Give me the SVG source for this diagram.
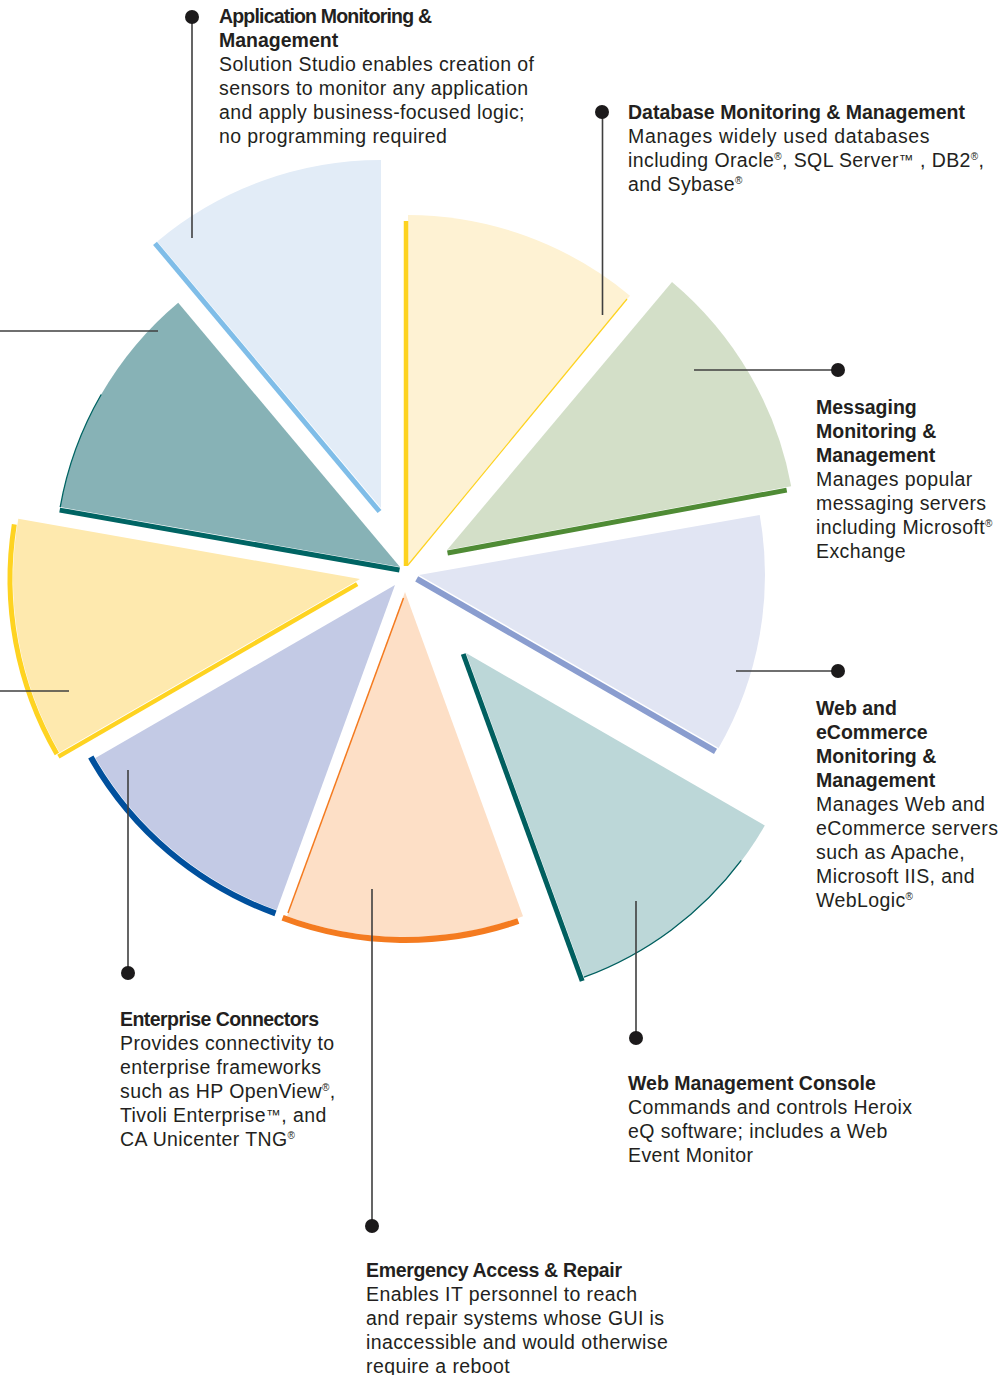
<svg xmlns="http://www.w3.org/2000/svg" width="1003" height="1375" viewBox="0 0 1003 1375">
<style>
text{font-family:"Liberation Sans",Arial,sans-serif;font-size:19.5px;fill:#231f20}
.t{font-weight:bold}
.b{letter-spacing:0.4px}
.tm{font-size:15px}
.edge{fill:none;stroke-linecap:butt}
.lead{stroke:#3f3f3f;stroke-width:1.6;fill:none}
.dot{fill:#1c1a1b}
</style>
<rect width="1003" height="1375" fill="#ffffff"/>

<g id="wedge-app">
<path d="M381,508 L157.3,241.4 A348,348 0 0 1 381,160 Z" fill="#e2ecf7"/>
<line class="edge" x1="379.5" y1="511.5" x2="155" y2="243.3" stroke="#7fbde8" stroke-width="5"/>
</g>
<g id="wedge-database">
<path d="M408,565 L408,215 A349,349 0 0 1 630,295.7 Z" fill="#fef2d3"/>
<line class="edge" x1="406" y1="221" x2="406" y2="566" stroke="#fdd21f" stroke-width="4.5"/>
<line class="edge" x1="408" y1="565" x2="627" y2="299" stroke="#fdd21f" stroke-width="1.2"/>
</g>
<g id="wedge-messaging">
<path d="M447,550 L672,281.9 A350,350 0 0 1 791.2,486.2 Z" fill="#d3dfc8"/>
<line class="edge" x1="447.5" y1="553" x2="786.7" y2="490.1" stroke="#4f8b35" stroke-width="5"/>
</g>
<g id="wedge-web-ecommerce">
<path d="M419,575 L759.7,514.9 A346,346 0 0 1 718.6,748 Z" fill="#e1e5f3"/>
<line class="edge" x1="416.7" y1="578.9" x2="715.5" y2="751.4" stroke="#8a9dcf" stroke-width="6"/>
</g>
<g id="wedge-web-console">
<path d="M466,653 L764.8,825.5 A345,345 0 0 1 584,977.2 Z" fill="#bcd7d8"/>
<line class="edge" x1="463.2" y1="654" x2="582.2" y2="981" stroke="#005f5f" stroke-width="5"/>
<path class="edge" d="M741.2,860.4 A345,345 0 0 1 584,977.2" stroke="#005f5f" stroke-width="1.3"/>
</g>
<g id="wedge-emergency">
<path d="M405,592 L523,916.2 A345,345 0 0 1 287,916.2 Z" fill="#fddfc6"/>
<path class="edge" d="M518.3,921 A348,348 0 0 1 282.6,917.8" stroke="#f47b20" stroke-width="6"/>
<line class="edge" x1="403.5" y1="598" x2="288" y2="913" stroke="#f47b20" stroke-width="1.5"/>
</g>
<g id="wedge-enterprise">
<path d="M395,585 L276.7,910.1 A346,346 0 0 1 95.4,758 Z" fill="#c3cae5"/>
<path class="edge" d="M275.5,913.4 A349.5,349.5 0 0 1 90.8,757.1" stroke="#00509d" stroke-width="6"/>
</g>
<g id="wedge-left-yellow">
<path d="M360,579 L59.5,752.5 A347,347 0 0 1 18.3,518.7 Z" fill="#fee9ae"/>
<path class="edge" d="M56.9,754 A350,350 0 0 1 14.3,524.3" stroke="#fed321" stroke-width="5"/>
<line class="edge" x1="357.2" y1="584.1" x2="58.4" y2="756.6" stroke="#fed321" stroke-width="4.5"/>
</g>
<g id="wedge-left-teal">
<path d="M400,567 L60.2,507.1 A345,345 0 0 1 178.2,302.7 Z" fill="#87b2b6"/>
<line class="edge" x1="399.5" y1="570" x2="59.7" y2="510.1" stroke="#006463" stroke-width="5"/>
<path class="edge" d="M60.2,507.1 A345,345 0 0 1 101.2,394.5" stroke="#006463" stroke-width="1.3"/>
</g>

<g id="connectors">
<line class="lead" x1="192" y1="17" x2="192" y2="238"/>
<circle class="dot" cx="192" cy="17" r="7"/>
<line class="lead" x1="602.5" y1="112" x2="602.5" y2="315"/>
<circle class="dot" cx="602" cy="112" r="7"/>
<line class="lead" x1="694" y1="370" x2="838" y2="370"/>
<circle class="dot" cx="838" cy="370" r="7"/>
<line class="lead" x1="736" y1="671" x2="838" y2="671"/>
<circle class="dot" cx="838" cy="671" r="7"/>
<line class="lead" x1="636" y1="901" x2="636" y2="1038"/>
<circle class="dot" cx="636" cy="1038" r="7"/>
<line class="lead" x1="372" y1="889" x2="372" y2="1226"/>
<circle class="dot" cx="372" cy="1226" r="7"/>
<line class="lead" x1="128" y1="770" x2="128" y2="973"/>
<circle class="dot" cx="128" cy="973" r="7"/>
<line class="lead" x1="0" y1="331" x2="158" y2="331"/>
<line class="lead" x1="0" y1="691" x2="69" y2="691"/>
</g>

<g id="label-app">
<text class="t" x="219" y="22.5" textLength="213">Application Monitoring &amp;</text>
<text class="t" x="219" y="46.5">Management</text>
<text class="b" x="219" y="70.5">Solution Studio enables creation of</text>
<text class="b" x="219" y="94.5">sensors to monitor any application</text>
<text class="b" x="219" y="118.5">and apply business-focused logic;</text>
<text class="b" x="219" y="142.5">no programming required</text>
</g>
<g id="label-database">
<text class="t" x="628" y="118.5">Database Monitoring &amp; Management</text>
<text class="b" x="628" y="142.5" textLength="302">Manages widely used databases</text>
<text class="b" x="628" y="166.5">including Oracle<tspan font-size="10" dy="-7">®</tspan><tspan dy="7">, SQL Server</tspan><tspan class="tm" dy="-2">™</tspan><tspan dy="2"> , DB2</tspan><tspan font-size="10" dy="-7">®</tspan><tspan dy="7">,</tspan></text>
<text class="b" x="628" y="190.5">and Sybase<tspan font-size="10" dy="-7">®</tspan></text>
</g>
<g id="label-messaging">
<text class="t" x="816" y="413.5">Messaging</text>
<text class="t" x="816" y="437.5">Monitoring &amp;</text>
<text class="t" x="816" y="461.5">Management</text>
<text class="b" x="816" y="485.5">Manages popular</text>
<text class="b" x="816" y="509.5">messaging servers</text>
<text class="b" x="816" y="533.5">including Microsoft<tspan font-size="10" dy="-7">®</tspan></text>
<text class="b" x="816" y="557.5">Exchange</text>
</g>
<g id="label-web-ecommerce">
<text class="t" x="816" y="714.5">Web and</text>
<text class="t" x="816" y="738.5">eCommerce</text>
<text class="t" x="816" y="762.5">Monitoring &amp;</text>
<text class="t" x="816" y="786.5">Management</text>
<text class="b" x="816" y="810.5">Manages Web and</text>
<text class="b" x="816" y="834.5">eCommerce servers</text>
<text class="b" x="816" y="858.5">such as Apache,</text>
<text class="b" x="816" y="882.5">Microsoft IIS, and</text>
<text class="b" x="816" y="906.5">WebLogic<tspan font-size="10" dy="-7">®</tspan></text>
</g>
<g id="label-web-console">
<text class="t" x="628" y="1089.5">Web Management Console</text>
<text class="b" x="628" y="1113.5">Commands and controls Heroix</text>
<text class="b" x="628" y="1137.5">eQ software; includes a Web</text>
<text class="b" x="628" y="1161.5">Event Monitor</text>
</g>
<g id="label-emergency">
<text class="t" x="366" y="1276.5" textLength="256">Emergency Access &amp; Repair</text>
<text class="b" x="366" y="1300.5">Enables IT personnel to reach</text>
<text class="b" x="366" y="1324.5">and repair systems whose GUI is</text>
<text class="b" x="366" y="1348.5">inaccessible and would otherwise</text>
<text class="b" x="366" y="1372.5">require a reboot</text>
</g>
<g id="label-enterprise">
<text class="t" x="120" y="1025.5" textLength="199">Enterprise Connectors</text>
<text class="b" x="120" y="1049.5">Provides connectivity to</text>
<text class="b" x="120" y="1073.5">enterprise frameworks</text>
<text class="b" x="120" y="1097.5">such as HP OpenView<tspan font-size="10" dy="-7">®</tspan><tspan dy="7">,</tspan></text>
<text class="b" x="120" y="1121.5">Tivoli Enterprise<tspan class="tm" dy="-2">™</tspan><tspan dy="2">, and</tspan></text>
<text class="b" x="120" y="1145.5">CA Unicenter TNG<tspan font-size="10" dy="-7">®</tspan></text>
</g>
</svg>
